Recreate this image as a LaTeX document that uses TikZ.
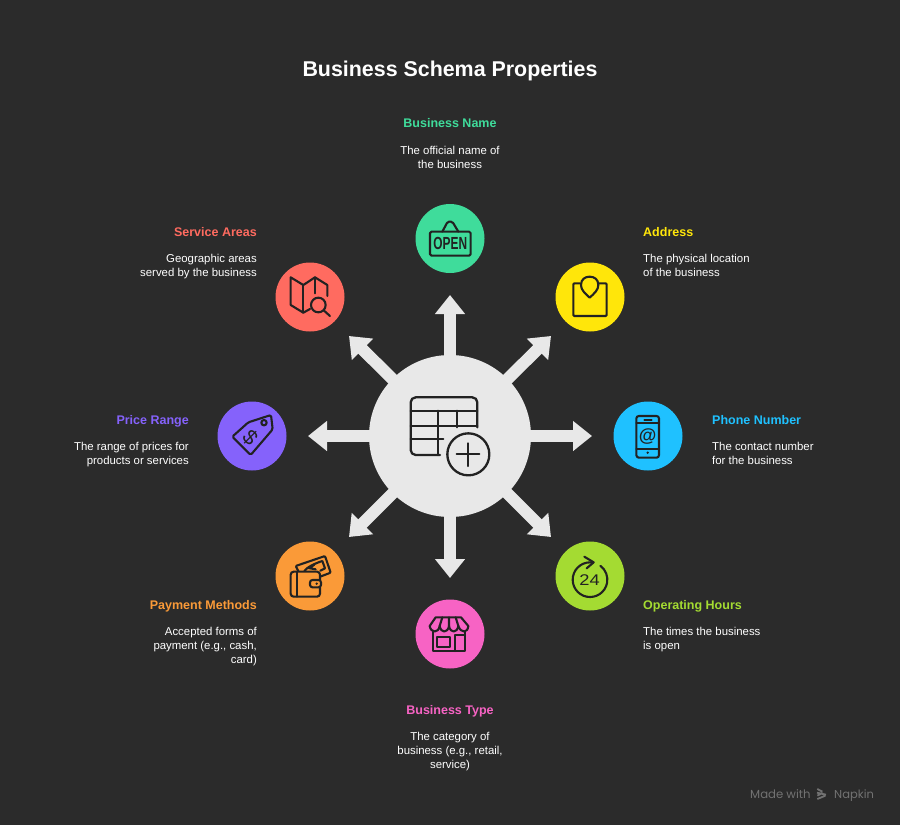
\documentclass[tikz,border=0pt]{standalone}
\usepackage{fontspec}
\setmainfont{Liberation Sans}
\newfontfamily\napfont{Poppins}
\usetikzlibrary{arrows.meta}
\definecolor{bgc}{HTML}{2B2B2B}
\definecolor{hubc}{HTML}{E8E8E8}
\definecolor{inkc}{HTML}{222222}
\definecolor{cgreen}{HTML}{3FDC9B}
\definecolor{cyellow}{HTML}{FFE60A}
\definecolor{cred}{HTML}{FF6B60}
\definecolor{cpurple}{HTML}{8562FB}
\definecolor{cblue}{HTML}{1FC1FF}
\definecolor{corange}{HTML}{FA9A38}
\definecolor{clime}{HTML}{A4DB32}
\definecolor{cpink}{HTML}{F763C4}
\definecolor{cgrey}{HTML}{727272}
\tikzset{
 spoke/.style={line width=12pt,draw=hubc,-{Triangle[length=19pt,width=29pt,fill=hubc]}},
 disc/.style={circle,minimum size=69pt,inner sep=0pt,fill=#1},
 head/.style={font=\fontsize{12.5}{15}\selectfont\bfseries,text=#1,inner sep=0pt},
 desc/.style={font=\fontsize{11.4}{14}\selectfont,text=white,inner sep=0pt},
 ic/.style={draw=inkc,line width=2.1pt,line join=round,line cap=round},
 icon/.style 2 args={shift={(#1,#2)},scale=0.33333},
 glyph/.style={text=inkc,inner sep=0pt}
}
\begin{document}
\begin{tikzpicture}[x=1pt,y=-1pt]
\path[fill=bgc] (0,0) rectangle (900,825);
\useasboundingbox (0,0) rectangle (900,825);

\node[circle,fill=hubc,minimum size=162pt,inner sep=0pt] (hub) at (450,436) {};
\coordinate (tN) at (450,295);
\coordinate (tS) at (450,578);
\coordinate (tE) at (592,436);
\coordinate (tW) at (308,436);
\coordinate (tNE) at (551,336);
\coordinate (tNW) at (349,336);
\coordinate (tSE) at (551,537);
\coordinate (tSW) at (349,537);
\foreach \t in {tN,tS,tE,tW,tNE,tNW,tSE,tSW} \draw[spoke] (hub.center) -- (\t);

\node[disc=cgreen] (dName) at (450,238.5) {};
\node[disc=cyellow] (dAddr) at (590,297) {};
\node[disc=cred] (dArea) at (310,297) {};
\node[disc=cpurple] (dPrice) at (252,436) {};
\node[disc=cblue] (dPhone) at (648,436) {};
\node[disc=corange] (dPay) at (310,576) {};
\node[disc=clime] (dHours) at (590,576) {};
\node[disc=cpink] (dType) at (450,634) {};

% hub icon
\begin{scope}[icon={360}{340},line cap=round,line join=round]
\draw[inkc,line width=2.3pt,rounded corners=5pt] (352,262) -- (352,172) -- (152,172) -- (152,345) -- (240,345);
\draw[inkc,line width=2.3pt] (152,212) -- (352,212) (152,257) -- (352,257) (152,298) -- (250,298)
  (235,212) -- (235,345) (292,212) -- (292,262);
\draw[inkc,line width=2.3pt] (325,343) circle[radius=63];
\draw[inkc,line width=2.3pt] (290,343) -- (358,343) (325,310) -- (325,378);
\end{scope}

% OPEN
\begin{scope}[icon={400}{190}]
\draw[ic,rounded corners=1.5pt] (90,125) rectangle (212,197);
\draw[ic,rounded corners=1.5pt] (127,125) -- (143,95) -- (157,95) -- (175,125);
\node[glyph,font=\fontsize{17.5}{18}\selectfont\bfseries,xscale=.68] (gOpen) at (151,161) {OPEN};
\end{scope}

% address
\begin{scope}[icon={400}{190}]
\draw[ic,rounded corners=1pt] (540,280) -- (520,280) -- (520,378) -- (620,378) -- (620,280) -- (598,280);
\draw[ic] (569,323) .. controls (555,310) and (543,300) .. (543,285) .. controls (543,268) and (555,260) .. (569,260)
  .. controls (583,260) and (595,268) .. (595,285) .. controls (595,300) and (583,310) .. (569,323) -- cycle;
\end{scope}

% map
\begin{scope}[icon={260}{250}]
\draw[ic] (150,177) -- (130,188) -- (92,165) -- (92,82) -- (130,105) -- (165,82) -- (202,105) -- (202,138);
\draw[ic] (130,105) -- (130,188) (165,82) -- (165,130);
\draw[ic] (175,165) circle[radius=22];
\draw[ic] (191,181) -- (210,198);
\end{scope}

% tag
\begin{scope}[icon={205}{390}]
\draw[ic,rounded corners=1.5pt] (130,97) -- (198,75) -- (203,118) -- (137,195) -- (82,140) -- cycle;
\draw[ic] (177,98) circle[radius=8];
\node[glyph,rotate=-45,font=\fontsize{21}{22}\selectfont] (gDollar) at (136,142) {\$};
\end{scope}

% phone
\begin{scope}[icon={605}{390}]
\draw[ic,rounded corners=2.5pt] (94,78) rectangle (162,203);
\draw[ic] (94,100) -- (162,100) (94,177) -- (162,177) (118,89) -- (140,89);
\fill[inkc] (128,188) circle[radius=4];
\node[glyph,font=\fontsize{18}{18}\selectfont\bfseries] (gAt) at (128,139) {@};
\end{scope}

% wallet
\begin{scope}[icon={265}{530}]
\draw[ic,rounded corners=3pt] (165,150) -- (165,125) -- (77,125) -- (77,200) -- (165,200) -- (165,172);
\draw[ic] (95,125) -- (95,200);
\draw[ic,rounded corners=2.5pt] (135,150) rectangle (168,172);
\fill[inkc] (155,161) circle[radius=4];
\draw[ic,rounded corners=1pt] (100,123) -- (92,108) -- (180,78) -- (197,128) -- (168,139);
\draw[ic] (118,123) .. controls (125,112) and (150,100) .. (172,93) -- (180,115) -- (166,122);
\draw[ic] (132,115) -- (148,104) (130,114) -- (152,118);
\end{scope}

% 24
\begin{scope}[icon={545}{530}]
\draw[ic] (145,98) arc[start angle=281,end angle=-53,radius=52];
\draw[ic] (118,80) -- (146,97) -- (125,115);
\node[glyph,font=\fontsize{15.5}{18}\selectfont,xscale=1.18] (g24) at (134,150) {24};
\end{scope}

% store
\begin{scope}[icon={405}{590}]
\draw[ic] (92,82) -- (168,82) -- (190,108) .. controls (188,130) and (168,130) .. (160,108)
  .. controls (156,130) and (136,130) .. (132,108) .. controls (128,130) and (108,130) .. (104,108)
  .. controls (100,130) and (78,130) .. (74,108) -- cycle;
\draw[ic] (104,108) -- (112,82) (132,108) -- (132,82) (160,108) -- (152,82);
\draw[ic] (85,126) -- (85,183) -- (180,183) -- (180,126);
\draw[ic] (97,140) rectangle (135,170);
\draw[ic] (150,183) -- (150,135) -- (177,135);
\end{scope}

% texts
\node[font=\fontsize{21.4}{24}\selectfont\bfseries,text=white,inner sep=0pt,anchor=base] (title) at (450,76) {Business Schema Properties};

\node[head=cgreen,anchor=base] (hName) at (450,127) {Business Name};
\node[desc,align=center,anchor=north] (tName) at (450,146) {The official name of\\the business};

\node[head=cyellow,anchor=base west] (hAddr) at (643,236) {Address};
\node[desc,align=left,anchor=north west] (tAddr) at (643,254) {The physical location\\of the business};

\node[head=cred,anchor=base east] (hArea) at (257,236) {Service Areas};
\node[desc,align=right,anchor=north east] (tArea) at (257,254) {Geographic areas\\served by the business};

\node[head=cpurple,anchor=base east] (hPrice) at (189,424) {Price Range};
\node[desc,align=right,anchor=north east] (tPrice) at (189,442) {The range of prices for\\products or services};

\node[head=cblue,anchor=base west] (hPhone) at (712,424) {Phone Number};
\node[desc,align=left,anchor=north west] (tPhone) at (712,442) {The contact number\\for the business};

\node[head=corange,anchor=base east] (hPay) at (257,609) {Payment Methods};
\node[desc,align=right,anchor=north east] (tPay) at (257,627) {Accepted forms of\\payment (e.g., cash,\\card)};

\node[head=clime,anchor=base west] (hHours) at (643,609) {Operating Hours};
\node[desc,align=left,anchor=north west] (tHours) at (643,627) {The times the business\\is open};

\node[head=cpink,anchor=base] (hType) at (450,714) {Business Type};
\node[desc,align=center,anchor=north] (tType) at (450,732) {The category of\\business (e.g., retail,\\service)};

\node[font=\napfont\fontsize{11.7}{14}\selectfont,text=cgrey,inner sep=0pt,anchor=base west] (mMade) at (750,798) {Made with};
\node[font=\napfont\fontsize{11.5}{14}\selectfont,text=cgrey,inner sep=0pt,anchor=base west] (mNap) at (834,798) {Napkin};
\begin{scope}[icon={740}{775}]
\draw[cgrey,line width=1.8pt] (232,42) -- (247,50) (231,53) -- (258,59) (232,72) -- (256,62) (232,62) -- (248,54);
\end{scope}
\end{tikzpicture}
\end{document}
